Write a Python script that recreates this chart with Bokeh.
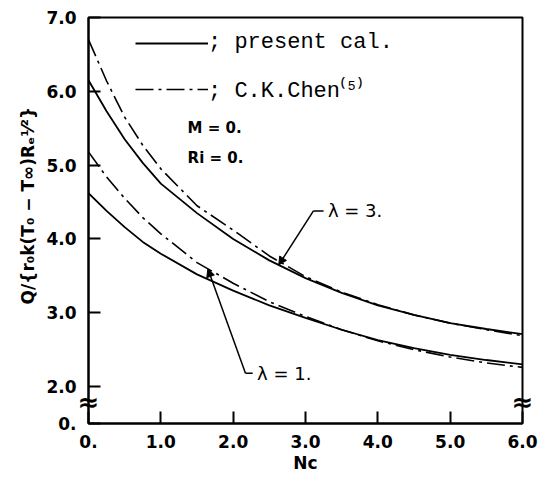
from bokeh.plotting import figure
from bokeh.models import Range1d, FixedTicker, Legend, LegendItem, Label, Arrow, NormalHead, LinearAxis
from bokeh.embed import file_html
from bokeh.resources import INLINE
import numpy as np

# ---- data ----
nc = [0.0, 0.25, 0.5, 0.75, 1.0, 1.5, 2.0, 2.5, 3.0, 3.5, 4.0, 4.5, 5.0, 5.5, 6.0]
lam3_present = [6.15, 5.73, 5.35, 5.03, 4.75, 4.35, 4.00, 3.71, 3.47, 3.27, 3.10, 2.97, 2.86, 2.78, 2.71]
lam3_chen    = [6.70, 6.14, 5.65, 5.27, 4.95, 4.45, 4.12, 3.77, 3.49, 3.28, 3.11, 2.97, 2.86, 2.77, 2.69]
lam1_present = [4.62, 4.38, 4.16, 3.96, 3.80, 3.52, 3.30, 3.10, 2.93, 2.77, 2.63, 2.52, 2.43, 2.36, 2.30]
lam1_chen    = [5.18, 4.84, 4.55, 4.29, 4.07, 3.68, 3.40, 3.15, 2.95, 2.77, 2.62, 2.50, 2.40, 2.32, 2.26]

x_ticks = [0, 1, 2, 3, 4, 5, 6]
x_tick_labels = ["0.", "1.0", "2.0", "3.0", "4.0", "5.0", "6.0"]
y_ticks = [1.5, 2, 3, 4, 5, 6, 7]
y_tick_labels = ["0.", "2.0", "3.0", "4.0", "5.0", "6.0", "7.0"]
break_x = [0, 6]

FONT = "DejaVu Sans"

p = figure(width=547, height=478, x_range=Range1d(0, 6), y_range=Range1d(1.5, 7.0),
           output_backend="svg", toolbar_location=None,
           min_border_left=88, min_border_right=25, min_border_top=17, min_border_bottom=55)
p.grid.visible = False
p.outline_line_color = "black"
p.outline_line_width = 2
p.background_fill_color = "white"
p.border_fill_color = "white"

for ax in (p.xaxis[0], p.yaxis[0]):
    ax.axis_line_width = 2
    ax.major_tick_line_width = 2
    ax.major_tick_in = 12
    ax.major_tick_out = 0
    ax.minor_tick_line_color = None
    ax.major_label_text_font = FONT
    ax.major_label_text_font_style = "bold"
    ax.major_label_text_font_size = "17px"
    ax.major_label_text_color = "black"
    ax.axis_label_text_font = FONT
    ax.axis_label_text_font_style = "bold"
    ax.axis_label_text_color = "black"

p.xaxis.ticker = FixedTicker(ticks=x_ticks)
p.xaxis.major_label_overrides = {t: l for t, l in zip(x_ticks, x_tick_labels)}
p.yaxis.ticker = FixedTicker(ticks=y_ticks)
p.yaxis.major_label_overrides = {t: l for t, l in zip(y_ticks, y_tick_labels)}
p.xaxis.major_label_standoff = 11
p.yaxis.major_label_standoff = 12
p.xaxis.axis_label = "Nc"
p.xaxis.axis_label_text_font_size = "17px"
p.xaxis.axis_label_standoff = 2
p.yaxis.axis_label = "\u00a0" * 5 + "Q/{r\u2080k(T\u2080 \u2212 T\u221e)R\u2091\u00b9\u2044\u00b2}"
p.yaxis.axis_label_text_font_size = "17px"
p.yaxis.axis_label_standoff = 5

# axis-break marks on both vertical edges, carried by an unlabeled top axis
bax = LinearAxis(ticker=FixedTicker(ticks=break_x),
                 major_label_overrides={b: "\u2248" for b in break_x},
                 axis_line_color=None, major_tick_line_color=None, minor_tick_line_color=None,
                 major_label_standoff=-405, major_label_text_font=FONT,
                 major_label_text_font_size="26px", major_label_text_font_style="bold",
                 major_label_text_color="black")
p.add_layout(bax, "above")

DASH = "18 5 3 5"
r_p3 = p.line(nc, lam3_present, line_color="black", line_width=1.8)
r_c3 = p.line(nc, lam3_chen, line_color="black", line_width=1.6, line_dash=DASH)
p.line(nc, lam1_present, line_color="black", line_width=1.8)
p.line(nc, lam1_chen, line_color="black", line_width=1.6, line_dash=DASH)

legend = Legend(items=[LegendItem(label="; present cal.", renderers=[r_p3]),
                       LegendItem(label="; C.K.Chen\u207d\u2075\u207e", renderers=[r_c3])],
                location=(47, 319), glyph_width=73, glyph_height=22, label_height=22,
                spacing=18, padding=0, margin=0, label_standoff=0,
                border_line_color=None, background_fill_alpha=0,
                label_text_font="Liberation Mono", label_text_font_size="22px",
                label_text_color="black")
p.add_layout(legend)

txt = dict(text_font=FONT, text_font_style="bold", text_font_size="15px",
           text_baseline="middle", text_color="black")
p.add_layout(Label(x=1.37, y=5.50, text="M = 0.", **txt))
p.add_layout(Label(x=1.37, y=5.10, text="Ri = 0.", **txt))

# leader lines with arrow heads pointing at the curves
def leader(tip_x, curve, corner, end_x, text):
    tip_y = float(np.interp(tip_x, nc, curve))
    cx, cy = corner
    p.add_layout(Arrow(end=NormalHead(size=8, fill_color="black", line_color="black"),
                       x_start=cx, y_start=cy, x_end=tip_x, y_end=tip_y,
                       line_color="black", line_width=1.5))
    p.line([cx, end_x], [cy, cy], line_color="black", line_width=1.5)
    p.add_layout(Label(x=end_x + 0.06, y=cy, text=text, text_font=FONT,
                       text_font_size="18px", text_baseline="middle", text_color="black"))

leader(2.63, lam3_present, (3.11, 4.38), 3.25, "\u03bb = 3.")
leader(1.65, lam1_chen, (2.17, 2.18), 2.27, "\u03bb = 1.")

open("out.html", "w").write(file_html(p, INLINE))
